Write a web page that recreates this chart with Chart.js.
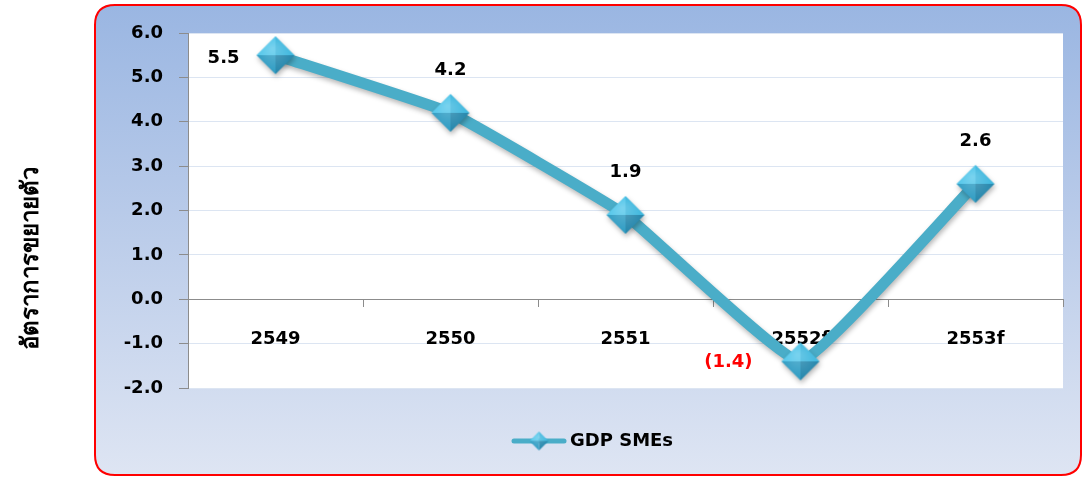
<!DOCTYPE html>
<html><head><meta charset="utf-8">
<script src="https://cdn.jsdelivr.net/npm/chart.js@4.4.0/dist/chart.umd.min.js"></script>
<style>html,body{margin:0;padding:0;background:#fff;overflow:hidden}#wrap{width:1083px;height:477px;position:relative}</style>
</head><body><div id="wrap"><canvas id="c" width="1083" height="477"></canvas></div>
<script>
// ---- data ----
const categories = ['2549', '2550', '2551', '2552f', '2553f'];
const gdpSMEs = [5.5, 4.2, 1.9, -1.4, 2.6];
const seriesName = 'GDP SMEs';
const yAxisTitle = 'อัตราการขยายตัว';
const yTickMin = -2;
const yTickMax = 6;
const yTickStep = 1;

// ---- styles ----
const FONT = '"DejaVu Sans", sans-serif';
const LINE_COLOR = '#4AADC8';

function makeDiamond(half) {
  const s = Math.ceil(half * 2 + 2);
  const cv = document.createElement('canvas');
  cv.width = s; cv.height = s;
  const g = cv.getContext('2d');
  const c = s / 2;
  const T = [c, c - half], R = [c + half, c], B = [c, c + half], L = [c - half, c], C = [c, c];
  function tri(a, b, col) {
    g.beginPath(); g.moveTo(C[0], C[1]); g.lineTo(a[0], a[1]); g.lineTo(b[0], b[1]); g.closePath();
    g.fillStyle = col; g.fill();
  }
  tri(L, T, '#52C6EA');
  tri(T, R, '#3DB7DE');
  tri(R, B, '#2386AC');
  tri(B, L, '#2E9CC3');
  const rg = g.createRadialGradient(c - half * 0.15, c - half * 0.35, 1, c, c, half);
  rg.addColorStop(0, 'rgba(255,255,255,0.22)');
  rg.addColorStop(1, 'rgba(255,255,255,0)');
  g.beginPath(); g.moveTo(T[0], T[1]); g.lineTo(R[0], R[1]); g.lineTo(B[0], B[1]); g.lineTo(L[0], L[1]); g.closePath();
  g.fillStyle = rg; g.fill();
  return cv;
}
const diamond = makeDiamond(19);
const legendDiamond = makeDiamond(9.5);

const boxPlugin = {
  id: 'box',
  beforeDraw(chart) {
    const ctx = chart.ctx, W = chart.width, H = chart.height;
    ctx.save();
    ctx.fillStyle = '#fff';
    ctx.fillRect(0, 0, W, H);
    const x = 95, y = 5, w = 986, h = 470, r = 20;
    ctx.beginPath();
    ctx.moveTo(x + r, y);
    ctx.lineTo(x + w - r, y); ctx.quadraticCurveTo(x + w, y, x + w, y + r);
    ctx.lineTo(x + w, y + h - r); ctx.quadraticCurveTo(x + w, y + h, x + w - r, y + h);
    ctx.lineTo(x + r, y + h); ctx.quadraticCurveTo(x, y + h, x, y + h - r);
    ctx.lineTo(x, y + r); ctx.quadraticCurveTo(x, y, x + r, y);
    ctx.closePath();
    const gr = ctx.createLinearGradient(0, y, 0, y + h);
    gr.addColorStop(0, '#9AB6E2');
    gr.addColorStop(0.5, '#BCCDEA');
    gr.addColorStop(1, '#DEE5F3');
    ctx.fillStyle = gr;
    ctx.fill();
    ctx.strokeStyle = '#FF0000';
    ctx.lineWidth = 2;
    ctx.stroke();
    const a = chart.chartArea;
    ctx.fillStyle = '#fff';
    ctx.fillRect(a.left, a.top, a.right - a.left, a.bottom - a.top);
    // y axis title
    ctx.translate(31, 258);
    ctx.rotate(-Math.PI / 2);
    ctx.fillStyle = '#000';
    ctx.font = 'bold 24px "Noto Sans", "DejaVu Sans", sans-serif';
    ctx.textAlign = 'center';
    ctx.textBaseline = 'middle';
    ctx.fillText(yAxisTitle, 0, 0);
    ctx.restore();
  },
  beforeDatasetDraw(chart) {
    const ctx = chart.ctx;
    ctx.save();
    ctx.shadowColor = 'rgba(0,0,0,0.28)';
    ctx.shadowBlur = 5;
    ctx.shadowOffsetX = 1;
    ctx.shadowOffsetY = 3;
  },
  afterDatasetDraw(chart) {
    chart.ctx.restore();
  },
  afterDatasetsDraw(chart) {
    const ctx = chart.ctx;
    const meta = chart.getDatasetMeta(0);
    ctx.save();
    ctx.font = 'bold 18px ' + FONT;
    ctx.textBaseline = 'middle';
    meta.data.forEach((pt, i) => {
      const v = gdpSMEs[i];
      if (v < 0) {
        ctx.fillStyle = '#FF0000';
        ctx.textAlign = 'right';
        ctx.fillText('(' + Math.abs(v).toFixed(1) + ')', pt.x - 48, pt.y + 1);
      } else if (i === 0) {
        ctx.fillStyle = '#000';
        ctx.textAlign = 'right';
        ctx.fillText(v.toFixed(1), pt.x - 36, pt.y + 3);
      } else {
        ctx.fillStyle = '#000';
        ctx.textAlign = 'center';
        ctx.fillText(v.toFixed(1), pt.x, pt.y - 43);
      }
    });
    ctx.restore();
  },
  afterDraw(chart) {
    const ctx = chart.ctx;
    ctx.save();
    const ly = 441;
    ctx.strokeStyle = LINE_COLOR;
    ctx.lineWidth = 5;
    ctx.lineCap = 'round';
    ctx.beginPath(); ctx.moveTo(514, ly); ctx.lineTo(564, ly); ctx.stroke();
    ctx.drawImage(legendDiamond, 539 - legendDiamond.width / 2, ly - legendDiamond.height / 2);
    ctx.fillStyle = '#000';
    ctx.font = 'bold 18px ' + FONT;
    ctx.textAlign = 'left';
    ctx.textBaseline = 'middle';
    ctx.fillText(seriesName, 570, ly);
    ctx.restore();
  }
};

new Chart(document.getElementById('c'), {
  type: 'line',
  data: {
    labels: categories,
    datasets: [{
      label: seriesName,
      data: gdpSMEs,
      borderColor: LINE_COLOR,
      borderWidth: 11,
      borderCapStyle: 'round',
      borderJoinStyle: 'round',
      tension: 0.1,
      pointStyle: diamond,
      pointRadius: 19,
      pointHoverRadius: 19,
      pointBorderWidth: 0,
      clip: false
    }]
  },
  options: {
    responsive: false,
    animation: false,
    devicePixelRatio: 1,
    layout: { autoPadding: false, padding: { left: 0, right: 20, top: 33, bottom: 89 } },
    plugins: { legend: { display: false }, tooltip: { enabled: false } },
    scales: {
      x: {
        type: 'category',
        position: { y: 0 },
        offset: true,
        z: 1,
        afterFit(s) { s.paddingLeft = 0; s.paddingRight = 0; },
        grid: { display: true, drawOnChartArea: false, drawTicks: true, tickLength: 7, tickColor: '#8C8C8C', offset: true },
        border: { display: true, color: '#8C8C8C', width: 1 },
        ticks: { padding: 22, color: '#000', font: { family: FONT, size: 18, weight: 'bold' }, maxRotation: 0, autoSkip: false }
      },
      y: {
        min: yTickMin,
        max: yTickMax,
        afterFit(s) { s.width = 188; },
        grid: { color: '#DCE5F2', tickColor: '#8C8C8C', tickLength: 9 },
        border: { display: true, color: '#8C8C8C', width: 1 },
        ticks: { stepSize: yTickStep, padding: 16, color: '#000', font: { family: FONT, size: 18, weight: 'bold' }, callback: v => Number(v).toFixed(1) }
      }
    }
  },
  plugins: [boxPlugin]
});
</script>
</body></html>
